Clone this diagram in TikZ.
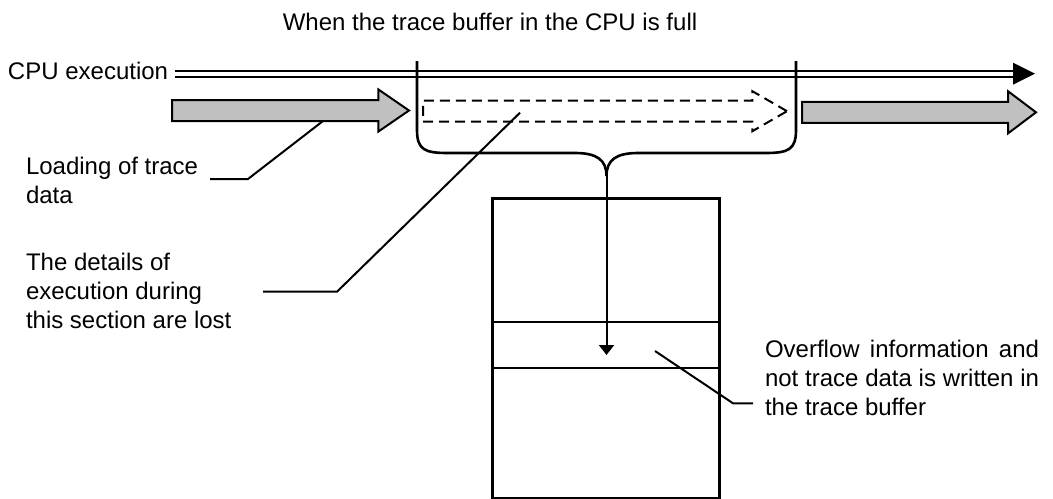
\documentclass[tikz,border=0pt]{standalone}
\usepackage{fontspec}
\setmainfont{Liberation Sans}
\usepackage{tikz}
\usetikzlibrary{arrows.meta,shapes.arrows,positioning,calc}
\definecolor{arrowgray}{HTML}{C0C0C0}

\begin{document}
\begin{tikzpicture}[x=0.5pt,y=-0.5pt,>=Stealth,
  txt/.style={inner sep=0pt,outer sep=0pt,font=\fontsize{12pt}{14.5pt}\selectfont},
  para/.style={txt,align=left,anchor=base west},
  blockarrow/.style={single arrow,draw,line width=1pt,inner sep=4.75pt,outer sep=0pt,anchor=tail},
  leader/.style={line width=1pt}]
\useasboundingbox (0,0) rectangle (1053,498);

% texts (a multi-line node sits on its last line)
\node[txt,anchor=base] (title) at (490,30) {When the trace buffer in the CPU is full};
\node[txt,anchor=base west] (cpu) at (8,79) {CPU execution};
\node[para] (loadtext) at (26,203) {Loading of trace\\data};
\node[para] (losttext) at (26,328) {The details of\\execution during\\this section are lost};
\node[txt,anchor=base west,text width=137pt,align=justify] (ovftext) at (765,357)
  {Overflow information and\linebreak not trace data is written in\linebreak the trace buffer};

% CPU execution line
\coordinate (cpuend) at (1013,73.8);
\draw[line width=1pt,double distance=1.85pt] ($(cpu.mid east)+(7,0)$) -- (cpuend |- cpu.mid east);
\fill (cpuend |- cpu.mid east) ++(0,-11) -- ++(22,11) -- ++(-22,11) -- cycle;

% loading arrows
\node[blockarrow,fill=arrowgray,minimum height=118.5pt,single arrow head extend=5.25pt,
  single arrow tip angle=69] (loadarrow) at (172,110.5) {};
\node[blockarrow,dashed,dash pattern=on 5pt off 3pt,minimum height=182pt,
  single arrow head extend=4.75pt,single arrow tip angle=60] (lostarrow) at (423,111.2) {};
\node[blockarrow,fill=arrowgray,minimum height=117pt,single arrow head extend=5.25pt,
  single arrow tip angle=74] (nextarrow) at (802,112.3) {};

% brace over the lost section
\coordinate (bartopL) at (417,61);
\coordinate (bartopR) at (796,61);
\coordinate (bracetip) at (606.5,176);
\draw[line width=1.3pt] (bartopL) -- (417,130) .. controls (417,150) and (425,153) .. (448,153)
  -- (575,153) .. controls (597,153) and (606.5,160) .. (bracetip);
\draw[line width=1.3pt] (bartopR) -- (796,130) .. controls (796,150) and (788,153) .. (765,153)
  -- (638,153) .. controls (616,153) and (606.5,160) .. (bracetip);

% trace buffer
\node[draw,line width=1.5pt,minimum width=113.5pt,minimum height=150pt,anchor=north west,
  inner sep=0pt] (buffer) at (491,197) {};
\draw[line width=1pt] ($(buffer.north west)+(0,125)$) -- ($(buffer.north east)+(0,125)$);
\draw[line width=1pt] ($(buffer.north west)+(0,171)$) -- ($(buffer.north east)+(0,171)$);
\coordinate (writept) at (606.5,355);
\draw[line width=1pt,-{Triangle[width=7.5pt,length=5pt]}] (bracetip) -- (writept);

% leaders
\coordinate (loadA) at (210,179);
\coordinate (loadend) at (323,121);
\draw[leader] (loadA) -- ++(38,0) -- (loadend);
\coordinate (lostA) at (263,291.7);
\coordinate (lostend) at (520,112.7);
\draw[leader] (lostA) -- ++(74,0) -- (lostend);
\coordinate (ovfA) at (753,403.3);
\coordinate (ovfend) at (655,351);
\draw[leader] (ovfA) -- ++(-20,0) -- (ovfend);
\end{tikzpicture}
\end{document}
